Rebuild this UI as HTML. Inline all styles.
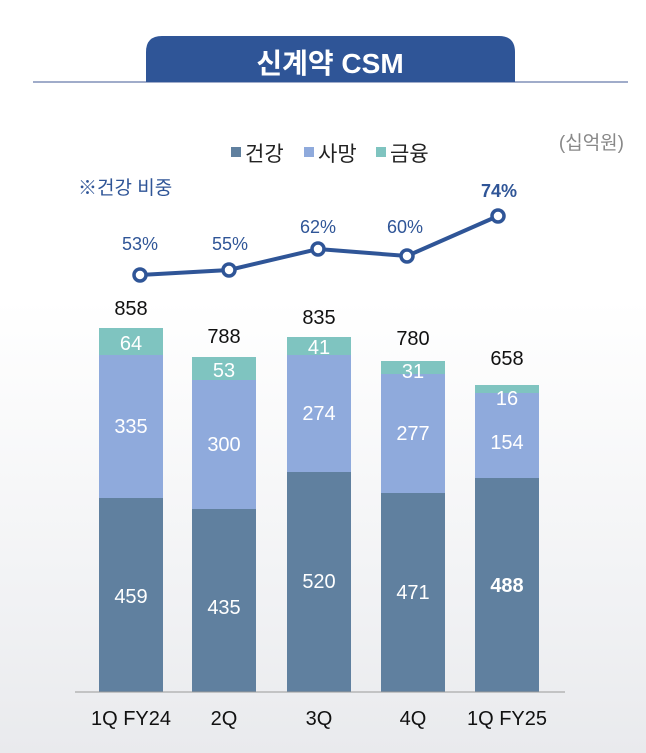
<!DOCTYPE html>
<html><head><meta charset="utf-8"><style>
body{margin:0;width:646px;height:753px;overflow:hidden;background:linear-gradient(#fff 0,#fff 300px,#f1f2f4 600px,#e9eaed 753px);font-family:"Liberation Sans","Noto Sans CJK KR",sans-serif;}
</style></head><body>
<svg width="646" height="753" xmlns="http://www.w3.org/2000/svg" style="position:absolute;left:0;top:0">
<line x1="33" y1="82" x2="628" y2="82" stroke="#8090b8" stroke-width="1.5"/>
<path d="M146,82 V52 Q146,36 162,36 H499 Q515,36 515,52 V82 Z" fill="#2f5597"/>
<text x="330" y="73" text-anchor="middle" font-size="28" font-weight="bold" fill="#fff" font-family="Liberation Sans,Noto Sans CJK KR,sans-serif">신계약 CSM</text>
<text x="624" y="149" text-anchor="end" font-size="19" fill="#888">(십억원)</text>
<g font-size="21" fill="#222">
<rect x="231" y="147" width="10" height="10" fill="#60809f"/><text x="245" y="161">건강</text>
<rect x="304" y="147" width="10" height="10" fill="#8faadc"/><text x="318" y="161">사망</text>
<rect x="376" y="147" width="10" height="10" fill="#7fc4c0"/><text x="390" y="161">금융</text>
</g>
<text x="78" y="194" font-size="19" fill="#2f5597">※건강 비중</text>
<g font-size="18" fill="#2f5597" text-anchor="middle">
<text x="140" y="250">53%</text><text x="230" y="250">55%</text><text x="318" y="233">62%</text><text x="405" y="233">60%</text>
<text x="499" y="197" font-weight="bold">74%</text></g>
<polyline points="140,275 229,270 318,249 407,256 498,216" fill="none" stroke="#2f5597" stroke-width="4"/>
<g fill="#fff" stroke="#2f5597" stroke-width="3.5">
<circle cx="140" cy="275" r="6"/><circle cx="229" cy="270" r="6"/><circle cx="318" cy="249" r="6"/><circle cx="407" cy="256" r="6"/><circle cx="498" cy="216" r="6"/></g>
<g>
<rect x="99" y="498" width="64" height="194" fill="#60809f"/><rect x="99" y="355" width="64" height="143" fill="#8faadc"/><rect x="99" y="328" width="64" height="27" fill="#7fc4c0"/>
<rect x="192" y="509" width="64" height="183" fill="#60809f"/><rect x="192" y="380" width="64" height="129" fill="#8faadc"/><rect x="192" y="357" width="64" height="23" fill="#7fc4c0"/>
<rect x="287" y="472" width="64" height="220" fill="#60809f"/><rect x="287" y="355" width="64" height="117" fill="#8faadc"/><rect x="287" y="337" width="64" height="18" fill="#7fc4c0"/>
<rect x="381" y="493" width="64" height="199" fill="#60809f"/><rect x="381" y="374" width="64" height="119" fill="#8faadc"/><rect x="381" y="361" width="64" height="13" fill="#7fc4c0"/>
<rect x="475" y="478" width="64" height="214" fill="#60809f"/><rect x="475" y="393" width="64" height="85" fill="#8faadc"/><rect x="475" y="385" width="64" height="8" fill="#7fc4c0"/>
</g>
<line x1="75" y1="692" x2="565" y2="692" stroke="#999" stroke-width="1"/>
<g font-size="20" fill="#fff" text-anchor="middle">
<text x="131" y="603">459</text><text x="131" y="433">335</text><text x="131" y="350">64</text>
<text x="224" y="614">435</text><text x="224" y="451">300</text><text x="224" y="377">53</text>
<text x="319" y="588">520</text><text x="319" y="420">274</text><text x="319" y="354">41</text>
<text x="413" y="599">471</text><text x="413" y="440">277</text><text x="413" y="378">31</text>
<text x="507" y="592" font-weight="bold">488</text><text x="507" y="449">154</text><text x="507" y="405">16</text>
</g>
<g font-size="20" fill="#111" text-anchor="middle">
<text x="131" y="315">858</text><text x="224" y="343">788</text><text x="319" y="324">835</text><text x="413" y="345">780</text><text x="507" y="365">658</text>
<text x="131" y="725">1Q FY24</text><text x="224" y="725">2Q</text><text x="319" y="725">3Q</text><text x="413" y="725">4Q</text><text x="507" y="725">1Q FY25</text>
</g>
</svg>
</body></html>
